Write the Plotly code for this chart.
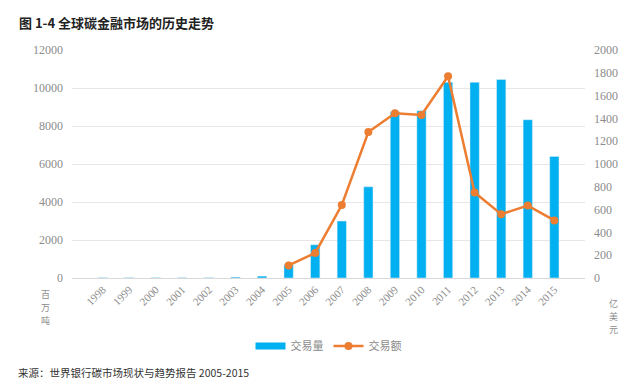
import plotly.graph_objects as go

years = [str(y) for y in range(1998, 2016)]
volume = [20, 20, 20, 20, 20, 50, 100, 700, 1750, 3000, 4800, 8750, 8800, 10300, 10300, 10450, 8330, 6400]
value = [None, None, None, None, None, None, None, 110, 220, 640, 1280, 1445, 1430, 1770, 750, 560, 635, 505]

serif = "Liberation Serif, Times New Roman, serif"
cjk = "Noto Sans CJK SC"
grey = "#8c8c8c"
blue = "#00B0F0"
orange = "#ED7D31"

PW = 513.0  # plot width px
PH = 228.0  # plot height px

fig = go.Figure()
fig.add_trace(go.Bar(x=years, y=volume, name="交易量", marker=dict(color=blue), yaxis="y",
                     showlegend=False))
fig.add_trace(go.Scatter(x=years, y=value, name="交易额", mode="lines+markers",
                         line=dict(color=orange, width=2.5),
                         marker=dict(color=orange, size=8), yaxis="y2", showlegend=False))
# legend entries
fig.add_trace(go.Scatter(x=[None], y=[None], name="交易量", mode="lines",
                         line=dict(color=blue, width=7), showlegend=True))
fig.add_trace(go.Scatter(x=[None], y=[None], name="交易额", mode="lines+markers",
                         line=dict(color=orange, width=2.5), marker=dict(color=orange, size=8),
                         showlegend=True))

fig.update_layout(
    width=624, height=373,
    margin=dict(l=64, r=47, t=42, b=103),
    paper_bgcolor="white", plot_bgcolor="white",
    bargap=0.65,
    showlegend=True,
    legend=dict(orientation="h", x=0.5, xanchor="center", y=-(346 - 278) / PH, yanchor="middle",
                font=dict(family=cjk, size=11, color=grey), traceorder="normal",
                itemwidth=30, tracegroupgap=0),
    xaxis=dict(type="category", tickangle=-45, tickfont=dict(family=serif, size=11, color=grey),
               showgrid=False, showline=True, linecolor="#d9d9d9", linewidth=1, ticks=""),
    yaxis=dict(range=[0, 12000], dtick=2000, tickformat="d",
               tickfont=dict(family=serif, size=12, color=grey),
               showgrid=True, gridcolor="#e6e6e6", gridwidth=1, zeroline=False, ticks="",
               ticklabelstandoff=8),
    yaxis2=dict(range=[0, 2000], dtick=200, tickformat="d", overlaying="y", side="right",
                tickfont=dict(family=serif, size=12, color=grey), showgrid=False,
                zeroline=False, ticks="", ticklabelstandoff=8),
    font=dict(family=cjk),
)

fig.add_annotation(text="<b>图 1-4 全球碳金融市场的历史走势</b>", xref="paper", yref="paper",
                   x=-55 / PW, xanchor="left", y=1 + 27 / PH, yanchor="middle", showarrow=False,
                   font=dict(family=cjk, size=13, color="#222222"))
fig.add_annotation(text="来源：世界银行碳市场现状与趋势报告 2005-2015", xref="paper", yref="paper",
                   x=-55 / PW, xanchor="left", y=-(372.5 - 278) / PH, yanchor="middle", showarrow=False,
                   borderpad=0, font=dict(family=cjk, size=10.5, color="#333333"))

left_chars = ["百", "万", "吨"]
left_ys = [294, 307, 320]
for ch, yy in zip(left_chars, left_ys):
    fig.add_annotation(text=ch, xref="paper", yref="paper", x=(45 - 72) / PW, xanchor="center",
                       y=-(yy - 278) / PH, yanchor="middle", showarrow=False, borderpad=0,
                       font=dict(family=cjk, size=9, color=grey))
right_chars = ["亿", "美", "元"]
right_ys = [303, 316, 329]
for ch, yy in zip(right_chars, right_ys):
    fig.add_annotation(text=ch, xref="paper", yref="paper", x=(613 - 72) / PW, xanchor="center",
                       y=-(yy - 278) / PH, yanchor="middle", showarrow=False, borderpad=0,
                       font=dict(family=cjk, size=9, color=grey))

fig.write_html("out.html")
